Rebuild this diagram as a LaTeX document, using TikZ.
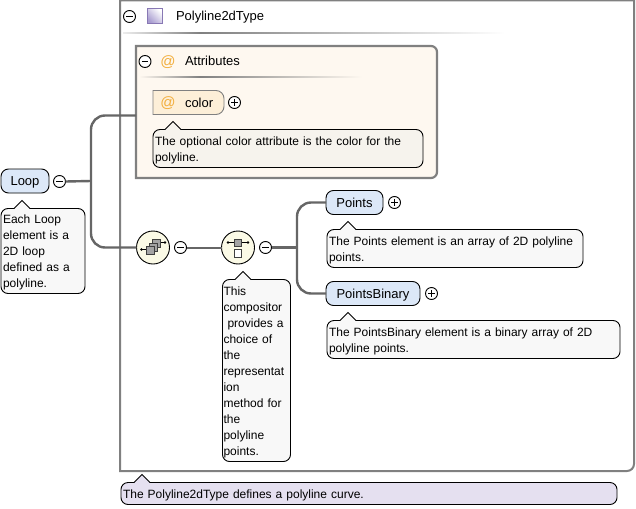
\documentclass[tikz,border=0pt]{standalone}
\usepackage{fontspec}
\setmainfont{Liberation Sans}
\usetikzlibrary{calc,shapes.geometric}
\definecolor{frame}{HTML}{808080}
\definecolor{wire}{HTML}{666666}
\definecolor{elem}{HTML}{DCE8F8}
\definecolor{note}{HTML}{F8F8F8}
\definecolor{attr}{HTML}{FEF8F0}
\definecolor{attrnote}{HTML}{F6F3ED}
\definecolor{attrnode}{HTML}{FDEFD8}
\definecolor{typenote}{HTML}{E5E0F0}
\definecolor{comp}{HTML}{FBFAE6}
\definecolor{at}{HTML}{F2AE3C}
\definecolor{violetedge}{HTML}{8878B4}
\definecolor{violetfill}{HTML}{A89CD0}
\definecolor{glyph}{HTML}{A4A4A4}
\tikzset{
  x=1pt,y=-1pt,
  every node/.style={font=\fontsize{12}{16}\selectfont,inner sep=0pt,outer sep=0pt},
  labeltext/.style={font=\fontsize{13}{16}\selectfont,text height=9pt,text depth=0pt},
  elembox/.style={draw=black,fill=elem,rounded corners=7.5pt,line width=0.9pt,minimum height=24pt,anchor=west,labeltext},
  notebox/.style={draw=black,fill=note,rounded corners=7pt,line width=0.9pt,anchor=north west,align=left,text height=12pt},
  wireline/.style={draw=wire,line width=2.4pt,rounded corners=14pt},
  thinwire/.style={draw=wire,line width=2pt},
  toggle/.style={circle,draw=black,fill=white,line width=0.9pt,minimum size=12pt},
  compnode/.style={circle,draw=black,fill=comp,line width=0.9pt,minimum size=33pt},
  atsign/.style={anchor=center,text=at,font=\fontsize{15}{16}\selectfont},
  ptr/.style={draw=black,line width=0.9pt},
  glyphline/.style={line width=0.9pt},
  glyphbox/.style={draw=black!75,fill=glyph,line width=0.7pt},
}
\newcommand{\minus}[1]{\draw[line width=0.9pt] ($(#1)+(-3.2,0)$)--($(#1)+(3.2,0)$);}
\newcommand{\plus}[1]{\minus{#1}\draw[line width=0.9pt] ($(#1)+(0,-3.2)$)--($(#1)+(0,3.2)$);}
\newcommand{\pointer}[3]{\fill[#3] (#1-8,#2+0.5)--(#1,#2-8)--(#1+8,#2+0.5)--cycle;
 \draw[ptr] (#1-8,#2)--(#1,#2-8)--(#1+8,#2);}
\begin{document}
\begin{tikzpicture}
\useasboundingbox (0,0) rectangle (636,508);
\fill[white] (0,0) rectangle (636,508);
\coordinate (busA) at (91,181);
% outer frame: only the lower right corner is rounded
\node[minimum width=514pt,minimum height=470.5pt,anchor=north west] (outer) at (120,0.5) {};
\draw[frame,line width=2pt,line join=miter]
  (outer.south west) -- (outer.north west) -- (outer.north east) -- ($(outer.south east)+(0,-7)$)
  to[out=-90,in=0] ($(outer.south east)+(-7,0)$) -- cycle;
% header
\node[toggle] (tgHead) at (129.5,16.5) {}; \minus{tgHead}
\node[draw=violetedge,line width=1pt,minimum size=15pt,shading=axis,left color=white,right color=violetfill,shading angle=-45] (typeIcon) at (155,16) {};
\node[anchor=west,labeltext] (typeName) at (176,16.5) {Polyline2dType};
\shade[left color=frame!15,right color=frame] (123,32.2) rectangle (200,33.7);
\shade[left color=frame,right color=white] (200,32.2) rectangle (505,33.7);
% attributes: square on the left, rounded on the right
\node[minimum width=301pt,minimum height=132pt,anchor=north west] (attrs) at (136,46) {};
\draw[frame,fill=attr,line width=2.2pt,line join=miter]
  (attrs.south west) -- (attrs.north west) -- ($(attrs.north east)+(-6,0)$)
  to[out=0,in=90] ($(attrs.north east)+(0,6)$) -- ($(attrs.south east)+(0,-6)$)
  to[out=-90,in=0] ($(attrs.south east)+(-6,0)$) -- cycle;
\node[toggle] (tgAttr) at (145,61.5) {}; \minus{tgAttr}
\node[atsign] (atA) at (168,62.5) {@};
\node[anchor=west,labeltext] (attrName) at (185,61.5) {Attributes};
\shade[left color=attr,right color=frame] (139,76.6) rectangle (200,78);
\shade[left color=frame,right color=attr] (200,76.6) rectangle (362,78);
\node[minimum width=71pt,minimum height=24pt,anchor=west] (colorNode) at (153,102.5) {};
\draw[frame,fill=attrnode,line width=0.9pt]
  (colorNode.south west) -- (colorNode.north west) -- ($(colorNode.north east)+(-8,0)$)
  to[out=0,in=90] ($(colorNode.north east)+(0,8)$) -- ($(colorNode.south east)+(0,-8)$)
  to[out=-90,in=0] ($(colorNode.south east)+(-8,0)$) -- cycle;
\node[atsign] (atB) at (168,103.5) {@};
\node[anchor=west,labeltext] (colorName) at (185,102.5) {color};
\node[toggle] (tgColor) at (234.5,102.5) {}; \plus{tgColor}
\node[notebox,fill=attrnote,minimum width=270pt,minimum height=38pt,text width=266pt,inner xsep=2pt,inner ysep=3pt] (colorNote) at (153,129.5) {The optional color attribute is the color for the\\polyline.};
\pointer{173}{129.5}{attrnote}
% Loop
\node[elembox,minimum width=48pt,align=center] (loop) at (1,181) {Loop};
\node[toggle] (tgLoop) at (59.5,181.5) {}; \minus{tgLoop}
\node[notebox,minimum width=84pt,minimum height=85pt,text width=80pt,inner xsep=2pt,inner ysep=3pt] (loopNote) at (1,208.5) {Each Loop\\element is a\\2D loop\\defined as a\\polyline.};
\pointer{22}{208.5}{note}
% compositors
\node[compnode] (seq) at (153,247.5) {};
\node[toggle] (tgSeq) at (180.5,247.5) {}; \minus{tgSeq}
\node[compnode] (choice) at (238,247.5) {};
\node[toggle] (tgChoice) at (265.5,247.5) {}; \minus{tgChoice}
% sequence glyph
\draw[glyphline] ($(seq)+(-11.5,2)$)--($(seq)+(-6,2)$);
\draw[glyphline] ($(seq)+(7,-5)$)--($(seq)+(12,-5)$);
\fill ($(seq)+(-11.5,2)$) circle (1.4);
\fill ($(seq)+(12,-5)$) circle (1.4);
\foreach \dx/\dy in {3.5/-4,0.5/-0.5,-2.5/2.5}{
  \draw[glyphbox] ($(seq)+(\dx-4,\dy-4)$) rectangle ($(seq)+(\dx+4,\dy+4)$);
}
% choice glyph
\draw[glyphline] ($(choice)+(-10,-5)$)--($(choice)+(10,-5)$);
\fill ($(choice)+(-10,-5)$) circle (1.4);
\fill ($(choice)+(10,-5)$) circle (1.4);
\draw[glyphbox] ($(choice)+(-3.7,-8.5)$) rectangle ($(choice)+(3.7,-1)$);
\draw[glyphbox,fill=white] ($(choice)+(-3.7,2)$) rectangle ($(choice)+(3.7,9.5)$);
\node[notebox,minimum width=68pt,minimum height=182pt,text width=66pt,inner xsep=1pt,inner ysep=3pt] (choiceNote) at (222.5,279.5) {This\\compositor\\\ provides a\\choice of\\the\\representat\\ion\\method for\\the\\polyline\\points.};
\pointer{243}{279.5}{note}
% elements
\node[elembox,minimum width=57pt,align=center] (points) at (326,202.5) {Points};
\node[toggle] (tgPoints) at (394.5,202.5) {}; \plus{tgPoints}
\node[notebox,minimum width=256pt,minimum height=38pt,text width=252pt,inner xsep=2pt,inner ysep=3pt] (pointsNote) at (327,229.5) {The Points element is an array of 2D polyline\\points.};
\pointer{348}{229.5}{note}
\node[elembox,minimum width=94pt,align=center] (binary) at (326,293.5) {PointsBinary};
\node[toggle] (tgBinary) at (431.5,293.5) {}; \plus{tgBinary}
\node[notebox,minimum width=293pt,minimum height=38pt,text width=289pt,inner xsep=2pt,inner ysep=3pt] (binaryNote) at (327,320.5) {The PointsBinary element is a binary array of 2D\\polyline points.};
\pointer{348}{320.5}{note}
% type note
\node[notebox,fill=typenote,minimum width=496pt,minimum height=22pt,text width=492pt,inner xsep=2pt,inner ysep=3pt] (typeNote) at (121,482.5) {The Polyline2dType defines a polyline curve.};
\pointer{142}{482.5}{typenote}
% connectors
\draw[wireline] (tgLoop.east) -- (busA);
\draw[wireline] (attrs.west |- 0,115.5) -| (busA) |- (seq.west);
\draw[thinwire] (tgSeq.east) -- (choice.west);
\coordinate (busB) at (297,247.5);
\draw[wireline] (tgChoice.east) -- (busB);
\draw[wireline] (points.west) -| (busB) |- (binary.west);
\end{tikzpicture}
\end{document}
